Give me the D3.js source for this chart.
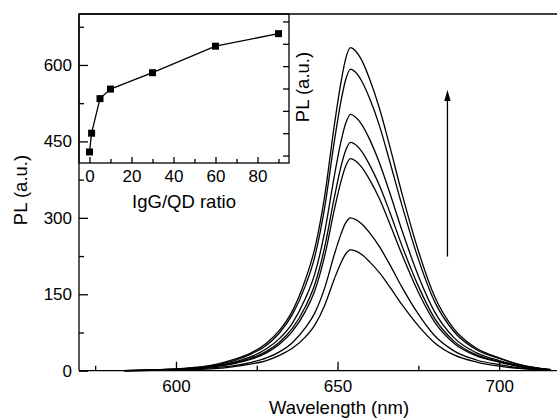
<!DOCTYPE html>
<html>
<head>
<meta charset="utf-8">
<script src="https://cdn.jsdelivr.net/npm/d3@7"></script>
<style>
body{margin:0;background:#fff}
svg{display:block;font-family:"Liberation Sans",Arial,sans-serif}
</style>
</head>
<body>
<svg id="chart" width="557" height="419"></svg>
<script>
// wavelength grid (nm) shared by all spectra
const wavelengths = [584, 595, 605, 612, 618, 623, 628, 632, 636, 640, 643, 646, 649, 651, 652.5, 654, 655.5, 657.5, 660, 663, 666, 670, 675, 680, 686, 693, 700, 707, 716];

// PL spectra, one per IgG/QD ratio
const plRatio0  = [0, 1, 2, 4, 8, 13, 20, 30, 44, 66, 90, 128, 180, 211, 229, 237, 235, 228, 213, 192, 166, 129, 88, 55, 31, 17, 9, 4, 1];
const plRatio1  = [0, 1, 3, 6, 10, 16, 25, 37, 55, 84, 114, 162, 228, 267, 290, 300, 297, 288, 270, 243, 210, 163, 111, 69, 39, 21, 12, 5, 1];
const plRatio5  = [0, 1, 4, 8, 14, 22, 35, 52, 77, 116, 158, 225, 316, 370, 401, 416, 412, 399, 374, 337, 291, 227, 154, 96, 54, 29, 17, 7, 1];
const plRatio10 = [0, 1, 4, 9, 15, 24, 38, 56, 83, 125, 170, 242, 340, 399, 432, 448, 444, 430, 403, 363, 314, 244, 166, 103, 58, 31, 18, 8, 1];
const plRatio30 = [0, 2, 5, 10, 17, 27, 43, 63, 93, 141, 191, 272, 382, 448, 485, 503, 498, 483, 453, 407, 352, 274, 186, 116, 65, 35, 20, 9, 2];
const plRatio60 = [0, 2, 5, 11, 20, 32, 50, 74, 110, 166, 225, 320, 450, 527, 571, 592, 586, 568, 533, 480, 414, 323, 219, 136, 77, 41, 24, 11, 2];
const plRatio90 = [0, 2, 6, 12, 22, 34, 54, 79, 117, 178, 241, 342, 482, 564, 612, 634, 628, 609, 571, 514, 444, 346, 235, 146, 82, 44, 25, 11, 2];

// inset: peak PL against IgG/QD ratio
const ratios = [0, 1, 5, 10, 30, 60, 90];
const peakPL = [237, 300, 416, 448, 503, 592, 634];

const xTicks = [600, 650, 700];
const xMinor = [575, 625, 675, 725];
const yTicks = [0, 150, 300, 450, 600];
const yMinor = [75, 225, 375, 525, 675];
const insetXTicks = [0, 20, 40, 60, 80];
const insetXMinor = [10, 30, 50, 70, 90];
const insetYTicks = [225, 300, 375, 450, 525, 600, 675];

// arrow: wavelength and PL range
const arrowAt = 684, arrowFrom = 224, arrowTo = 551;

const spectra = [plRatio0, plRatio1, plRatio5, plRatio10, plRatio30, plRatio60, plRatio90];

const svg = d3.select("#chart");
const x = d3.scaleLinear().domain([570, 720]).range([79, 563.8]);
const y = d3.scaleLinear().domain([0, 700]).range([370.7, 14]);

const line = d3.line()
    .x((d, i) => x(wavelengths[i]))
    .y(d => y(d))
    .curve(d3.curveMonotoneX);

svg.append("g")
    .selectAll("path")
    .data(spectra)
    .join("path")
    .attr("d", line)
    .attr("fill", "none")
    .attr("stroke", "#000")
    .attr("stroke-width", 1.3);

// arrow
svg.append("line")
    .attr("x1", x(arrowAt)).attr("x2", x(arrowAt))
    .attr("y1", y(arrowFrom)).attr("y2", y(arrowTo) + 8)
    .attr("stroke", "#000").attr("stroke-width", 1.3);
svg.append("path")
    .attr("d", `M${x(arrowAt)},${y(arrowTo)} l-3.2,11 l6.4,0 z`)
    .attr("fill", "#000");

// inset
const ix = d3.scaleLinear().domain([-5, 95]).range([79, 289]);
const iy = d3.scaleLinear().domain([200, 700]).range([163, 14]);
const inset = svg.append("g");

inset.append("rect")
    .attr("x", ix(-5)).attr("y", iy(700))
    .attr("width", ix(95) - ix(-5)).attr("height", iy(200) - iy(700))
    .attr("fill", "#fff").attr("stroke", "#000").attr("stroke-width", 1.3);

const styleAxis = g => {
    g.select(".domain").remove();
    g.attr("font-family", null).attr("font-size", 17);
    g.selectAll("line").attr("stroke-width", 1.3);
    g.selectAll("text").attr("fill", "#000");
};

inset.append("g")
    .attr("transform", `translate(0,${iy(200)})`)
    .call(d3.axisBottom(ix).tickValues(insetXTicks).tickSize(-6).tickPadding(7))
    .call(styleAxis);
inset.append("g")
    .attr("transform", `translate(0,${iy(200)})`)
    .call(d3.axisBottom(ix).tickValues(insetXMinor).tickSize(-4).tickFormat(""))
    .call(styleAxis);
inset.append("g")
    .attr("transform", `translate(${ix(95)},0)`)
    .call(d3.axisLeft(iy).tickValues(insetYTicks).tickSize(6).tickFormat(""))
    .call(styleAxis);

inset.append("path")
    .datum(peakPL)
    .attr("d", d3.line().x((d, i) => ix(ratios[i])).y(d => iy(d)))
    .attr("fill", "none").attr("stroke", "#000").attr("stroke-width", 1.3);
inset.selectAll("rect.pt")
    .data(peakPL)
    .join("rect")
    .attr("class", "pt")
    .attr("x", (d, i) => ix(ratios[i]) - 3.5)
    .attr("y", d => iy(d) - 3.5)
    .attr("width", 7).attr("height", 7)
    .attr("fill", "#000");

inset.append("text")
    .attr("x", 184).attr("y", 208)
    .attr("text-anchor", "middle")
    .attr("font-size", 18.5)
    .text("IgG/QD ratio");
inset.append("text")
    .attr("transform", "translate(309,87) rotate(-90)")
    .attr("text-anchor", "middle")
    .attr("font-size", 18.5)
    .text("PL (a.u.)");

// main axes
svg.append("g")
    .attr("transform", `translate(0,${y(0)})`)
    .call(d3.axisBottom(x).tickValues(xTicks).tickSize(-9).tickPadding(9))
    .call(styleAxis);
svg.append("g")
    .attr("transform", `translate(0,${y(0)})`)
    .call(d3.axisBottom(x).tickValues(xMinor).tickSize(-5).tickFormat(""))
    .call(styleAxis);
svg.append("g")
    .attr("transform", `translate(${x(570)},0)`)
    .call(d3.axisLeft(y).tickValues(yTicks).tickSize(-9).tickPadding(7))
    .call(styleAxis);
svg.append("g")
    .attr("transform", `translate(${x(570)},0)`)
    .call(d3.axisLeft(y).tickValues(yMinor).tickSize(-5).tickFormat(""))
    .call(styleAxis);

// frame lines
const frame = svg.append("g").attr("stroke", "#000").attr("stroke-width", 1.3);
frame.append("line").attr("x1", x(570)).attr("x2", x(720)).attr("y1", y(0)).attr("y2", y(0));
frame.append("line").attr("x1", x(570)).attr("x2", x(720)).attr("y1", y(700)).attr("y2", y(700));
frame.append("line").attr("x1", x(570)).attr("x2", x(570)).attr("y1", y(0)).attr("y2", y(700));

svg.append("text")
    .attr("x", 339).attr("y", 414)
    .attr("text-anchor", "middle")
    .attr("font-size", 18.5)
    .text("Wavelength (nm)");
svg.append("text")
    .attr("transform", "translate(27,190) rotate(-90)")
    .attr("text-anchor", "middle")
    .attr("font-size", 18.5)
    .text("PL (a.u.)");
</script>
</body>
</html>
